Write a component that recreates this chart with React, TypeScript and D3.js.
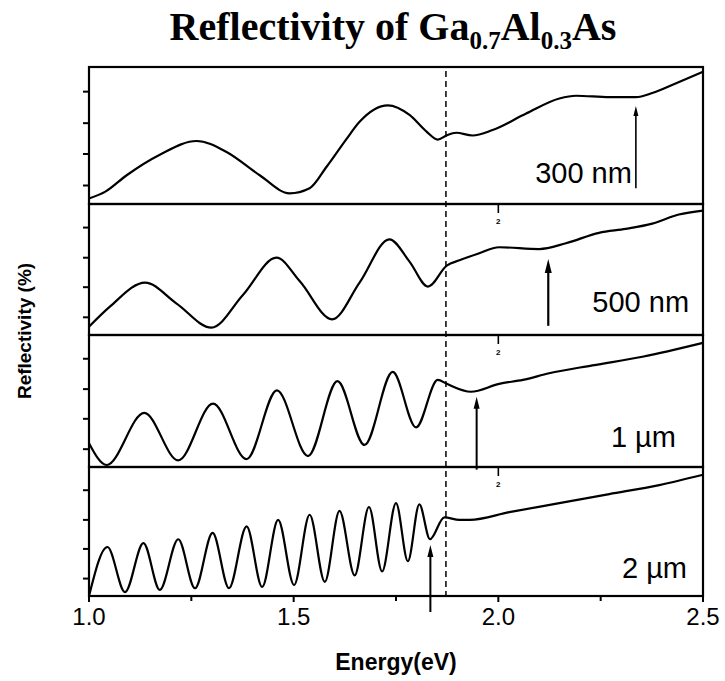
import React from "react";
import * as d3 from "d3";

const W = 725;
const H = 681;

// ---- data (reflectivity in arbitrary % units, 0-100 per panel) ----
const energy300 = [1.0, 1.04, 1.092, 1.173, 1.263, 1.336, 1.417, 1.49, 1.539, 1.58, 1.628, 1.661, 1.73, 1.783, 1.824, 1.852, 1.873, 1.897, 1.937, 1.986, 2.068, 2.149, 2.19, 2.271, 2.336, 2.376, 2.433, 2.5];
const refl300 = [4, 9, 21, 36, 46, 38, 21, 7.8, 11.5, 27, 47, 60, 72, 65, 53, 47, 50, 52, 50, 54, 66, 77, 79, 78, 78, 81, 88, 96.6];

const energy500 = [1.0, 1.051, 1.137, 1.214, 1.299, 1.376, 1.458, 1.515, 1.594, 1.661, 1.734, 1.783, 1.828, 1.874, 1.905, 1.95, 2.002, 2.1, 2.165, 2.246, 2.311, 2.376, 2.441, 2.5];
const refl500 = [6.3, 21.6, 40, 24, 5.6, 30.5, 59, 41, 12, 40, 73, 56, 37, 53, 57, 62, 67, 65.6, 70, 78, 81, 85, 92, 95];

const energy1um = [1.0, 1.043, 1.135, 1.218, 1.303, 1.385, 1.459, 1.535, 1.607, 1.673, 1.742, 1.799, 1.852, 1.874, 1.933, 2.002, 2.06, 2.124, 2.23, 2.352, 2.5];
const refl1um = [18, 1.5, 41, 5, 48, 6, 58, 8.3, 65, 16.7, 72, 30, 66, 63, 57, 63, 66, 71, 77, 83.5, 94];

const energy2um = [1.0, 1.045, 1.088, 1.133, 1.173, 1.218, 1.259, 1.302, 1.342, 1.385, 1.423, 1.462, 1.501, 1.539, 1.576, 1.612, 1.649, 1.684, 1.716, 1.75, 1.779, 1.807, 1.833, 1.868, 1.905, 1.93, 2.027, 2.149, 2.271, 2.393, 2.5];
const refl2um = [0, 38, 3, 41, 4.7, 44, 6, 49, 6, 54, 7, 59, 8.5, 63, 11, 66, 16, 69, 19, 72, 27, 71, 44, 61, 59, 59, 65, 72, 79, 86, 94];

const panelNames = ["300 nm", "500 nm", "1 \u00b5m", "2 \u00b5m"];
const arrowEnergy = [2.336, 2.122, 1.947, 1.834];
const arrowBase = [11.5, 7, -2, -12.4];
const arrowTip = [71.5, 58, 53.3, 39.5];

const xMajorTicks = [1.0, 1.5, 2.0, 2.5];
const xMinorTicks = [1.25, 1.75, 2.25];
const yTicks = [13.5, 36.5, 59, 82];
const bandEdgeEnergy = 1.872;
const topMarkEnergy = 2.0;

// ---- layout ----
const plotLeft = 89;
const plotRight = 703;
const panelTops = [67, 204, 335, 467];
const panelBottoms = [204, 335, 467, 596];
const labelEnd = [null, 2.466, 2.434, 2.461];
const labelBase = [15.3, 17.8, 15.4, 14];
const headW = [2.5, 3.5, 3, 3];
const headL = [10, 14, 12, 12];
const arrowSW = [1.6, 2.2, 2, 2];

const series = [
  { e: energy300, r: refl300 },
  { e: energy500, r: refl500 },
  { e: energy1um, r: refl1um },
  { e: energy2um, r: refl2um },
];

const sans = "'Liberation Sans', Arial, Helvetica, sans-serif";
const serif = "'Liberation Serif', 'Times New Roman', serif";

export default function App() {
  const x = d3.scaleLinear().domain([1, 2.5]).range([plotLeft, plotRight]);

  return (
    <svg width={W} height={H} viewBox={`0 0 ${W} ${H}`} style={{ display: "block", position: "absolute", left: 0, top: 0, background: "#fff" }}>
      <rect x={0} y={0} width={W} height={H} fill="#fff" />
      {/* title */}
      <text x={393} y={40} textAnchor="middle" fontFamily={serif} fontWeight="bold" fontSize={40} fill="#000">
        Reflectivity of Ga
        <tspan fontSize={25} dy={9}>0.7</tspan>
        <tspan dy={-9}>Al</tspan>
        <tspan fontSize={25} dy={9}>0.3</tspan>
        <tspan dy={-9}>As</tspan>
      </text>

      {series.map((s, i) => {
        const y = d3.scaleLinear().domain([0, 100]).range([panelBottoms[i], panelTops[i]]);
        const pts: [number, number][] = s.e.map((e, k) => [e, s.r[k]]);
        const line = d3
          .line<[number, number]>()
          .x((d) => x(d[0]))
          .y((d) => y(d[1]))
          .curve(d3.curveMonotoneX);
        const ax = x(arrowEnergy[i]);
        const tipY = y(arrowTip[i]);
        const baseY = y(arrowBase[i]);
        const lx = labelEnd[i] === null ? ax - 4 : x(labelEnd[i] as number);
        return (
          <g key={i}>
            <path d={line(pts) || ""} fill="none" stroke="#000" strokeWidth={2.2} strokeLinejoin="round" />
            {yTicks.map((t) => (
              <line key={t} x1={plotLeft - 6} x2={plotLeft} y1={y(t)} y2={y(t)} stroke="#000" strokeWidth={2} />
            ))}
            {i > 0 && (
              <g>
                <line x1={x(topMarkEnergy)} x2={x(topMarkEnergy)} y1={panelTops[i]} y2={panelTops[i] + 9} stroke="#000" strokeWidth={1.6} />
                <text x={x(topMarkEnergy)} y={panelTops[i] + 20} textAnchor="middle" fontFamily={sans} fontWeight="bold" fontSize={8} fill="#000">2</text>
              </g>
            )}
            {/* arrow */}
            <line x1={ax} x2={ax} y1={baseY} y2={tipY + headL[i] - 1} stroke="#000" strokeWidth={arrowSW[i]} />
            <path d={`M${ax},${tipY} L${ax - headW[i]},${tipY + headL[i]} L${ax + headW[i]},${tipY + headL[i]} Z`} fill="#000" />
            <text x={lx} y={y(labelBase[i])} textAnchor="end" fontFamily={sans} fontSize={29} fill="#000">
              {panelNames[i]}
            </text>
            <rect x={plotLeft} y={panelTops[i]} width={plotRight - plotLeft} height={panelBottoms[i] - panelTops[i]} fill="none" stroke="#000" strokeWidth={2.2} />
          </g>
        );
      })}

      {/* dashed band-edge line */}
      <line x1={x(bandEdgeEnergy)} x2={x(bandEdgeEnergy)} y1={panelTops[0] + 4} y2={panelBottoms[3]} stroke="#000" strokeWidth={1.5} strokeDasharray="6,4" />

      {/* bottom axis */}
      {xMajorTicks.map((t) => (
        <g key={t}>
          <line x1={x(t)} x2={x(t)} y1={panelBottoms[3]} y2={panelBottoms[3] + 6} stroke="#000" strokeWidth={2} />
          <text x={x(t)} y={625} textAnchor="middle" fontFamily={sans} fontSize={24} fill="#000">
            {d3.format(".1f")(t)}
          </text>
        </g>
      ))}
      {xMinorTicks.map((t) => (
        <line key={t} x1={x(t)} x2={x(t)} y1={panelBottoms[3]} y2={panelBottoms[3] + 5} stroke="#000" strokeWidth={2} />
      ))}
      <text x={396} y={670} textAnchor="middle" fontFamily={sans} fontWeight="bold" fontSize={23} fill="#000">
        Energy(eV)
      </text>
      <text transform="translate(31,331) rotate(-90)" textAnchor="middle" fontFamily={sans} fontWeight="bold" fontSize={19} fill="#000">
        Reflectivity (%)
      </text>
    </svg>
  );
}
